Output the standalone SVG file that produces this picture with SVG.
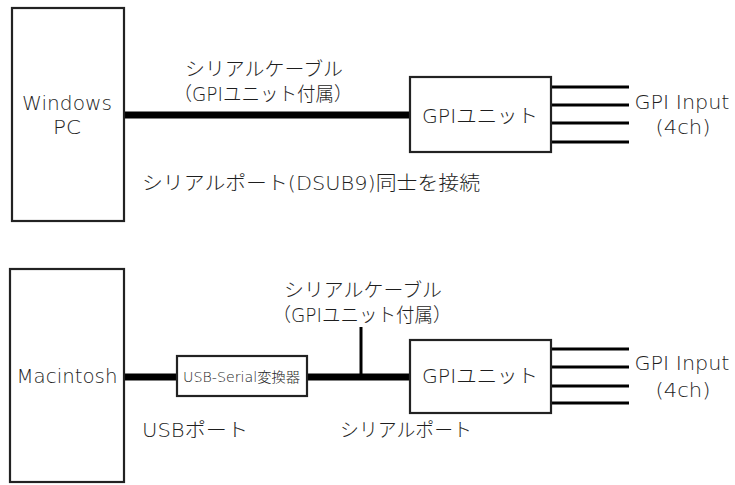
<svg xmlns="http://www.w3.org/2000/svg" width="735" height="485" viewBox="0 0 735 485">
<style>
.box{fill:#fff;stroke:#222;stroke-width:2.2}
.t{font-family:"DejaVu Sans","Noto Sans CJK JP",sans-serif;font-size:19px;font-weight:200;fill:#1e1e1e}
.s{font-family:"DejaVu Sans","Noto Sans CJK JP",sans-serif;font-size:14px;font-weight:200;fill:#1e1e1e}
.c{text-anchor:middle}
.thick{stroke:#000;stroke-width:7;fill:none}
.thin{stroke:#000;stroke-width:3;fill:none}
</style>
<rect width="735" height="485" fill="#fff"/>
<g id="connectors">
<line class="thick" x1="124" y1="115" x2="411" y2="115"/>
<line class="thin" x1="551" y1="87" x2="629" y2="87"/>
<line class="thin" x1="551" y1="105" x2="629" y2="105"/>
<line class="thin" x1="551" y1="123" x2="629" y2="123"/>
<line class="thin" x1="551" y1="142" x2="629" y2="142"/>
<line class="thick" x1="124" y1="377" x2="178" y2="377"/>
<line class="thick" x1="306" y1="377" x2="411" y2="377"/>
<line class="thin" x1="361" y1="327" x2="361" y2="377"/>
<line class="thin" x1="551" y1="349" x2="629" y2="349"/>
<line class="thin" x1="551" y1="367" x2="629" y2="367"/>
<line class="thin" x1="551" y1="386" x2="629" y2="386"/>
<line class="thin" x1="551" y1="403" x2="629" y2="403"/>
</g>
<g id="windows-pc">
<rect class="box" x="12" y="8" width="112" height="213"/>
<text class="t c" x="67" y="110" textLength="90" lengthAdjust="spacingAndGlyphs">Windows</text>
<text class="t c" x="67" y="134" textLength="28" lengthAdjust="spacingAndGlyphs">PC</text>
</g>
<g id="gpi-unit-top">
<rect class="box" x="410" y="77" width="141" height="75"/>
<text class="t c" x="480" y="123" textLength="116" lengthAdjust="spacingAndGlyphs">GPIユニット</text>
</g>
<g id="gpi-input-top">
<text class="t c" x="682" y="109" textLength="95" lengthAdjust="spacingAndGlyphs">GPI Input</text>
<text class="t c" x="683" y="134" textLength="55" lengthAdjust="spacingAndGlyphs">(4ch)</text>
</g>
<g id="labels-top">
<text class="t c" x="264" y="76" textLength="158" lengthAdjust="spacingAndGlyphs">シリアルケーブル</text>
<text class="t c" x="263" y="101" textLength="179" lengthAdjust="spacingAndGlyphs">（GPIユニット付属）</text>
<text class="t" x="142" y="190" textLength="338" lengthAdjust="spacingAndGlyphs">シリアルポート(DSUB9)同士を接続</text>
</g>
<g id="macintosh">
<rect class="box" x="10" y="269" width="114" height="213"/>
<text class="t c" x="67" y="383" font-size="20" textLength="101" lengthAdjust="spacingAndGlyphs">Macintosh</text>
</g>
<g id="usb-serial">
<rect class="box" x="177" y="356" width="130" height="40"/>
<text class="s c" x="241.5" y="382" textLength="117" lengthAdjust="spacingAndGlyphs">USB-Serial変換器</text>
</g>
<g id="gpi-unit-bottom">
<rect class="box" x="410" y="340" width="141" height="73"/>
<text class="t c" x="480" y="383" textLength="116" lengthAdjust="spacingAndGlyphs">GPIユニット</text>
</g>
<g id="gpi-input-bottom">
<text class="t c" x="682" y="370" textLength="95" lengthAdjust="spacingAndGlyphs">GPI Input</text>
<text class="t c" x="683" y="397" textLength="55" lengthAdjust="spacingAndGlyphs">(4ch)</text>
</g>
<g id="labels-bottom">
<text class="t c" x="363" y="297" textLength="158" lengthAdjust="spacingAndGlyphs">シリアルケーブル</text>
<text class="t c" x="362" y="322" textLength="179" lengthAdjust="spacingAndGlyphs">（GPIユニット付属）</text>
<text class="t" x="142" y="437" textLength="106" lengthAdjust="spacingAndGlyphs">USBポート</text>
<text class="t" x="340" y="437" textLength="132" lengthAdjust="spacingAndGlyphs">シリアルポート</text>
</g>
</svg>
